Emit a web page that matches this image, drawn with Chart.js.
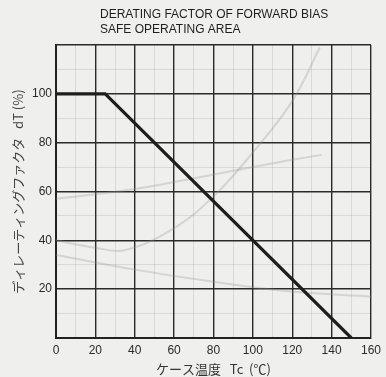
<!DOCTYPE html>
<html>
<head>
<meta charset="utf-8">
<script src="https://cdn.jsdelivr.net/npm/chart.js@4"></script>
<style>
  html, body { margin: 0; padding: 0; background: #efefed; }
  #wrap { width: 386px; height: 377px; }
</style>
</head>
<body>
<div id="wrap"><canvas id="chart" width="386" height="377"></canvas></div>
<script>
// derating curve (main series)
const caseTemp = [0, 25, 150];
const deratingFactor = [100, 100, 0];

// faint curves showing through from the other side of the page
const ghostRiseX = [0, 40, 80, 120, 135];
const ghostRiseY = [57, 61, 67, 73, 75];
const ghostUX = [0, 20, 35, 60, 80, 100, 120, 134];
const ghostUY = [40, 37, 36, 45, 58, 76, 97, 119];
const ghostFallX = [0, 40, 80, 120, 160];
const ghostFallY = [34, 28, 23, 19, 17];

const xTickLabels = [0, 20, 40, 60, 80, 100, 120, 140, 160];
const yTickLabels = [20, 40, 60, 80, 100];
const titleLines = ["DERATING FACTOR OF FORWARD BIAS", "SAFE OPERATING AREA"];

function pts(xs, ys) {
  return xs.map((x, i) => ({ x: x, y: ys[i] }));
}

function ghost(xs, ys) {
  return {
    data: pts(xs, ys),
    borderColor: "rgba(150,150,150,0.3)",
    borderWidth: 2,
    pointRadius: 0,
    tension: 0.4,
    order: 2,
  };
}

const titlePlugin = {
  id: "scanTitle",
  afterDraw(chart) {
    const c = chart.ctx;
    c.save();
    c.fillStyle = "#1e1e1e";
    c.font = "12px 'Liberation Sans', Arial, sans-serif";
    c.textBaseline = "middle";
    c.fillText(titleLines[0], 100, 15);
    c.fillText(titleLines[1], 100, 30);
    c.restore();
  },
};

const majorColor = (ctx) =>
  ctx.tick && ctx.tick.value % 20 === 0 ? "#2a2a2a" : "rgba(0,0,0,0.09)";
const majorWidth = (ctx) =>
  ctx.tick && ctx.tick.value % 20 === 0 ? 1.4 : 1;

new Chart(document.getElementById("chart").getContext("2d"), {
  type: "line",
  data: {
    datasets: [
      {
        data: pts(caseTemp, deratingFactor),
        borderColor: "#1e1e1e",
        borderWidth: 3.2,
        pointRadius: 0,
        tension: 0,
        order: 1,
      },
      ghost(ghostRiseX, ghostRiseY),
      ghost(ghostUX, ghostUY),
      ghost(ghostFallX, ghostFallY),
    ],
  },
  options: {
    responsive: false,
    animation: false,
    layout: { padding: { left: 0, right: 6, top: 45, bottom: 0 } },
    plugins: {
      legend: { display: false },
      tooltip: { enabled: false },
    },
    scales: {
      x: {
        type: "linear",
        min: 0,
        max: 160,
        afterFit: (axis) => { axis.height = 39; },
        ticks: {
          stepSize: 10,
          autoSkip: false,
          maxRotation: 0,
          padding: 5,
          color: "#2a2a2a",
          font: { family: "'Liberation Sans', Arial, sans-serif", size: 12 },
          callback: (v) => (xTickLabels.includes(v) ? String(v) : ""),
        },
        grid: { color: majorColor, lineWidth: majorWidth, drawTicks: false },
        border: { color: "#222", width: 2 },
        title: {
          display: true,
          text: "ケース温度   Tc  (℃)",
          color: "#333",
          font: { family: "'Noto Sans CJK JP', sans-serif", size: 13 },
          padding: { top: 0, bottom: 0 },
        },
      },
      y: {
        type: "linear",
        min: 0,
        max: 120,
        afterFit: (axis) => { axis.width = 56; },
        ticks: {
          stepSize: 10,
          autoSkip: false,
          padding: 4,
          color: "#2a2a2a",
          font: { family: "'Liberation Sans', Arial, sans-serif", size: 12 },
          callback: (v) => (yTickLabels.includes(v) ? String(v) : ""),
        },
        grid: { color: majorColor, lineWidth: majorWidth, drawTicks: false },
        border: { color: "#222", width: 2 },
        title: {
          display: true,
          text: "ディレーティングファクタ   dT (%)",
          color: "#444",
          font: { family: "'Noto Sans CJK JP', sans-serif", size: 13 },
          padding: { top: 10, bottom: 0 },
        },
      },
    },
  },
  plugins: [titlePlugin],
});
</script>
</body>
</html>
